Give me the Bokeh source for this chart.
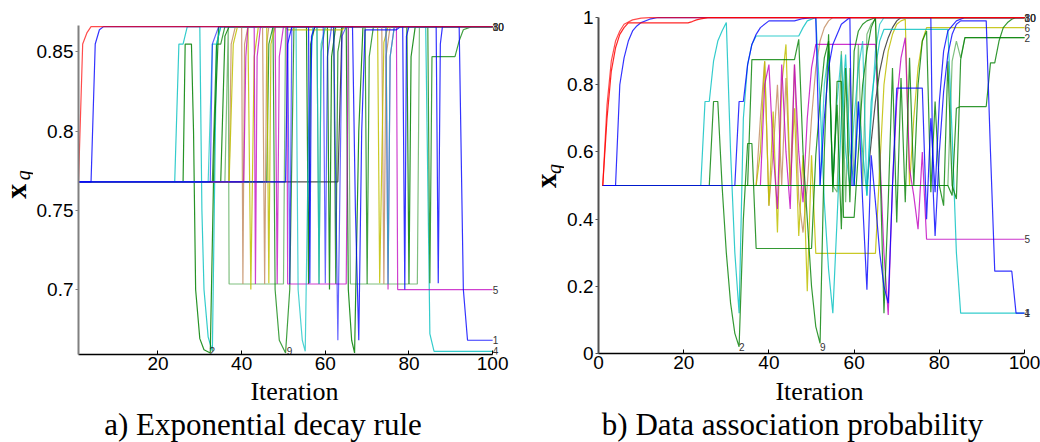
import math
from bokeh.plotting import figure
from bokeh.layouts import row, column
from bokeh.models import Range1d, FixedTicker, CustomJSTickFormatter, ColumnDataSource
from bokeh.core.properties import value
from bokeh.embed import file_html
from bokeh.resources import INLINE

RED = "#ff0000"; BLUE = "#0000ff"; GREEN = "#008000"; CYAN = "#00bfbf"
MAG = "#bf00bf"; YEL = "#bfbf00"; GRAY = "#404040"; TAN = "#c8966e"

# ---------------- panel a : Exponential decay rule ----------------
A_RED_X = [1, 2, 3, 4, 100]
A_RED_Y = [0.768, 0.855, 0.862, 0.866, 0.866]
A_BLUE1_X = [1, 4, 5, 6, 7, 92, 93, 94, 100]
A_BLUE1_Y = [0.768, 0.768, 0.855, 0.864, 0.866, 0.866, 0.70, 0.668, 0.668]
A_GRAY_X = [1, 63, 64, 100]
A_GRAY_Y = [0.768, 0.768, 0.866, 0.866]
A_CYAN1_X = [1, 24, 25, 26, 27, 30, 30.5, 31, 32, 33, 34, 35, 84, 85, 86, 100]
A_CYAN1_Y = [0.768, 0.768, 0.855, 0.855, 0.866, 0.866, 0.75, 0.70, 0.67, 0.661, 0.855, 0.866, 0.866, 0.672, 0.661, 0.661]
A_GREEN1_X = [1, 26, 26.5, 28, 28.5, 29, 30, 31, 32.5, 33.5, 34.5, 55.5, 56, 56.5, 57.5, 100]
A_GREEN1_Y = [0.768, 0.768, 0.855, 0.855, 0.80, 0.70, 0.669, 0.662, 0.66, 0.80, 0.866, 0.866, 0.7035, 0.855, 0.866, 0.866]
A_GREEN9_X = [1, 33, 34, 35, 36, 47.5, 48, 49, 50.5, 51.5, 52.5, 62, 62.5, 63, 64, 100]
A_GREEN9_Y = [0.768, 0.768, 0.855, 0.855, 0.866, 0.866, 0.70, 0.668, 0.66, 0.70, 0.866, 0.866, 0.7035, 0.85, 0.866, 0.866]
A_LGREEN_X = [1, 36, 36.8, 37, 50, 50.5, 58, 58.5, 59, 60, 65.5, 66, 82, 82.5, 100]
A_LGREEN_Y = [0.768, 0.768, 0.866, 0.7035, 0.7035, 0.866, 0.866, 0.7035, 0.85, 0.866, 0.866, 0.7035, 0.7035, 0.866, 0.866]
A_GREEN2_X = [1, 35, 36, 37, 60.5, 61, 61.5, 62.5, 65, 65.5, 66.3, 67, 68, 69, 79.5, 80, 80.5, 81.5, 100]
A_GREEN2_Y = [0.768, 0.768, 0.86, 0.866, 0.866, 0.70, 0.847, 0.866, 0.866, 0.70, 0.668, 0.66, 0.80, 0.866, 0.866, 0.7035, 0.847, 0.866, 0.866]
A_GREEN3_X = [1, 46, 46.5, 47.5, 69.5, 70, 70.5, 71.5, 84.5, 85, 85.5, 91, 92, 93, 95, 100]
A_GREEN3_Y = [0.768, 0.768, 0.855, 0.866, 0.866, 0.7035, 0.847, 0.866, 0.866, 0.704, 0.847, 0.847, 0.857, 0.864, 0.866, 0.866]
A_YEL_X = [1, 37, 38, 39, 41.5, 42.2, 43, 44, 46, 46.5, 47, 48, 50.5, 51, 64, 65, 72.5, 73, 74, 75, 100]
A_YEL_Y = [0.768, 0.768, 0.855, 0.866, 0.866, 0.70, 0.847, 0.866, 0.866, 0.704, 0.855, 0.866, 0.866, 0.864, 0.864, 0.866, 0.866, 0.704, 0.856, 0.866, 0.866]
A_TAN_X = [1, 37, 37.5, 38.5, 40, 40.3, 40.7, 41.5, 45, 45.5, 46, 46.5, 73.5, 74, 74.5, 75.5, 100]
A_TAN_Y = [0.768, 0.768, 0.855, 0.866, 0.866, 0.7035, 0.855, 0.866, 0.866, 0.7035, 0.855, 0.866, 0.866, 0.7035, 0.847, 0.866, 0.866]
A_MAG_X = [1, 40.5, 41, 41.5, 43, 43.3, 43.7, 44.5, 48, 48.5, 49, 50, 50.8, 51, 65, 65.5, 74.5, 75, 75.5, 76.5, 77, 77.3, 100]
A_MAG_Y = [0.768, 0.768, 0.847, 0.866, 0.866, 0.7035, 0.847, 0.866, 0.866, 0.7035, 0.847, 0.866, 0.866, 0.7035, 0.7035, 0.866, 0.866, 0.70, 0.847, 0.866, 0.866, 0.70, 0.70]
A_BLUE2_X = [1, 32.5, 33, 34.5, 51, 51.5, 52, 59.5, 60, 60.5, 61.5, 62, 63, 64, 65, 100]
A_BLUE2_Y = [0.768, 0.768, 0.855, 0.866, 0.866, 0.7035, 0.866, 0.866, 0.704, 0.847, 0.866, 0.866, 0.668, 0.86, 0.866, 0.866]
A_BLUE3_X = [1, 50.5, 51, 52, 56, 56.3, 56.7, 57.5, 66.5, 67.2, 68, 68.7, 69.5, 77, 78, 78.5, 79, 79.4, 80, 86.5, 87, 87.5, 88, 100]
A_BLUE3_Y = [0.768, 0.768, 0.855, 0.866, 0.866, 0.704, 0.86, 0.866, 0.866, 0.75, 0.668, 0.80, 0.864, 0.864, 0.866, 0.866, 0.70, 0.86, 0.866, 0.866, 0.704, 0.855, 0.866, 0.866]
A_CYAN2_X = [1, 32, 33, 34, 35, 53, 53.5, 54.5, 55.2, 56, 57, 58, 58.5, 59, 60, 74.5, 75, 75.5, 76.5, 100]
A_CYAN2_Y = [0.768, 0.768, 0.855, 0.855, 0.866, 0.866, 0.70, 0.668, 0.661, 0.80, 0.866, 0.866, 0.7035, 0.855, 0.866, 0.866, 0.7035, 0.847, 0.866, 0.866]

A_LABEL_TEXT = ["80", "30", "10", "5", "1", "4", "2", "9"]
A_LABEL_X = [100, 100, 100, 100, 100, 100, 32.3, 50.8]
A_LABEL_Y = [0.866, 0.866, 0.866, 0.70, 0.668, 0.661, 0.6615, 0.6615]
A_XTICKS = [20, 40, 60, 80, 100]
A_YTICKS = [0.7, 0.75, 0.8, 0.85]

# ---------------- panel b : Data association probability ----------------
B_RED1_X = [1, 2, 3, 4, 5, 6, 8, 10, 12, 100]
B_RED1_Y = [0.5, 0.74, 0.87, 0.93, 0.96, 0.98, 0.993, 0.998, 1, 1]
B_RED2_X = [1, 2, 3, 4, 5, 6, 7, 21, 22, 23, 24, 25, 26, 100]
B_RED2_Y = [0.5, 0.7, 0.84, 0.91, 0.95, 0.97, 0.984, 0.984, 0.988, 0.993, 0.996, 0.998, 1, 1]
B_BLUE1_X = [1, 4, 5, 6, 7, 8, 9, 10, 12, 14, 78, 78.5, 79, 80, 81, 82, 83, 84, 85, 91, 92, 93, 97, 98, 100]
B_BLUE1_Y = [0.5, 0.5, 0.8, 0.88, 0.93, 0.96, 0.975, 0.985, 0.995, 1, 1, 0.5, 0.35, 0.6, 0.78, 0.89, 0.95, 0.98, 0.99, 0.99, 0.6, 0.245, 0.245, 0.12, 0.12]
B_BLUE2_X = [1, 32, 33, 34, 35, 36, 37, 38, 40, 46, 48, 50, 51, 52, 53, 54, 55, 57, 59, 59.5, 60, 61, 62, 63, 64, 65, 66, 67, 68, 69, 70, 76, 77, 78, 79, 80, 81, 82, 84, 86, 100]
B_BLUE2_Y = [0.5, 0.5, 0.75, 0.75, 0.86, 0.92, 0.95, 0.97, 0.99, 0.99, 0.997, 1, 1, 0.5, 0.7, 0.85, 0.92, 0.98, 1, 0.5, 0.5, 0.75, 0.45, 0.19, 0.59, 0.45, 0.3, 0.2, 0.15, 0.5, 0.79, 0.79, 0.4, 0.7, 0.48, 0.75, 0.9, 0.96, 0.99, 1, 1]
B_CYAN1_X = [1, 24, 25, 26, 27, 28, 29, 30, 31, 32, 33, 34, 35, 36, 37, 47, 48, 49, 51, 52, 53, 54, 55, 56, 57, 58, 59, 60, 61, 62, 63, 64, 65, 66, 67, 82, 83, 84, 85, 100]
B_CYAN1_Y = [0.5, 0.5, 0.75, 0.75, 0.87, 0.93, 0.96, 0.985, 0.6, 0.3, 0.12, 0.7, 0.86, 0.92, 0.945, 0.945, 0.97, 0.99, 1, 0.75, 0.45, 0.25, 0.12, 0.4, 0.7, 0.89, 0.6, 0.5, 0.75, 0.6, 0.47, 0.75, 0.85, 0.93, 0.965, 0.965, 0.65, 0.3, 0.12, 0.12]
B_GREEN1_X = [1, 26, 27, 28, 29, 30, 31, 32, 33, 34, 35, 36, 37, 50, 51, 52, 53, 54, 55, 56, 57, 58, 59, 60, 61, 62, 63, 64, 65, 66, 67, 68, 69, 70, 71, 72, 73, 74, 75, 76, 77, 78, 79, 80, 81, 82, 83, 84, 85, 86, 100]
B_GREEN1_Y = [0.5, 0.5, 0.75, 0.75, 0.5, 0.3, 0.15, 0.06, 0.02, 0.4, 0.625, 0.625, 0.3125, 0.3125, 0.59, 0.75, 0.88, 0.93, 0.5, 0.74, 0.37, 0.85, 0.45, 0.9, 0.96, 0.98, 0.99, 0.995, 1, 0.6, 0.12, 0.45, 0.85, 0.39, 0.82, 0.45, 0.88, 0.5, 0.8, 0.93, 0.96, 0.48, 0.75, 0.5, 0.44, 0.87, 0.5, 0.46, 0.875, 0.94, 0.94]
B_GREEN9_X = [1, 35, 36, 46, 47, 48, 49, 50, 51, 52, 53, 54, 55, 56, 57, 57.5, 60, 61, 62, 63, 64, 65, 100]
B_GREEN9_Y = [0.5, 0.5, 0.875, 0.875, 0.935, 0.6, 0.4, 0.2, 0.08, 0.03, 0.6, 0.95, 0.48, 0.81, 0.81, 0.405, 0.405, 0.6, 0.8, 0.9, 0.97, 1, 1]
B_GREEN3_X = [1, 82, 83, 84, 85, 91, 92, 93, 94, 95, 96, 97, 98, 100]
B_GREEN3_Y = [0.5, 0.5, 0.47, 0.73, 0.735, 0.735, 0.865, 0.865, 0.93, 0.97, 0.985, 0.995, 1, 1]
B_LGREEN_X = [1, 55, 56, 57, 58, 59, 60, 61, 62, 63, 64, 65, 66, 82, 83, 84, 85, 86, 100]
B_LGREEN_Y = [0.5, 0.5, 0.48, 0.9, 0.45, 0.85, 0.5, 0.92, 0.5, 0.95, 0.98, 0.995, 0.5, 0.5, 0.87, 0.93, 0.88, 0.94, 0.94]
B_MAG_X = [1, 38, 39, 40, 41, 42, 43, 44, 45, 46, 47, 48, 49, 50, 51, 65, 66, 67, 68, 69, 70, 71, 72, 73, 74, 75, 76, 77, 100]
B_MAG_Y = [0.5, 0.5, 0.8, 0.86, 0.6, 0.43, 0.86, 0.6, 0.43, 0.86, 0.6, 0.45, 0.7, 0.85, 0.92, 0.92, 0.6, 0.3, 0.115, 0.5, 0.75, 0.88, 0.94, 0.55, 0.47, 0.37, 0.6, 0.34, 0.34]
B_YEL_X = [1, 37, 38, 39, 40, 41, 42, 43, 44, 45, 46, 47, 48, 49, 50, 51, 65, 66, 67, 68, 69, 70, 71, 72, 73, 74, 75, 76, 77, 100]
B_YEL_Y = [0.5, 0.5, 0.6, 0.87, 0.44, 0.72, 0.36, 0.8, 0.92, 0.5, 0.73, 0.35, 0.59, 0.185, 0.59, 0.298, 0.298, 0.55, 0.8, 0.9, 0.95, 0.98, 0.99, 0.995, 0.5, 0.7, 0.85, 0.93, 0.97, 0.97]
B_TAN_X = [1, 37, 38, 39, 40, 41, 42, 43, 44, 45, 46, 47, 48, 49, 50, 51, 52, 53, 54, 55, 100]
B_TAN_Y = [0.5, 0.5, 0.7, 0.87, 0.44, 0.6, 0.8, 0.5, 0.82, 0.5, 0.86, 0.46, 0.36, 0.5, 0.7, 0.85, 0.93, 0.97, 0.99, 1, 1]
B_GRAY_X = [1, 63, 64, 65, 66, 67, 68, 69, 70, 71, 100]
B_GRAY_Y = [0.5, 0.5, 0.63, 0.75, 0.84, 0.9, 0.94, 0.97, 0.99, 1, 1]
B_CYAN2_X = [1, 52, 53, 54, 55, 56, 57, 58, 59, 60, 61, 62, 63, 64, 65, 66, 67, 100]
B_CYAN2_Y = [0.5, 0.5, 0.8, 0.9, 0.5, 0.75, 0.89, 0.6, 0.5, 0.7, 0.85, 0.93, 0.47, 0.7, 0.9, 0.98, 1, 1]

B_LABEL_TEXT = ["80", "30", "10", "6", "2", "5", "1", "4", "2", "9"]
B_LABEL_X = [100, 100, 100, 100, 100, 100, 100, 100, 33, 52]
B_LABEL_Y = [1.0, 1.0, 1.0, 0.97, 0.94, 0.34, 0.12, 0.12, 0.02, 0.02]
B_XTICKS = [0, 20, 40, 60, 80, 100]
B_YTICKS = [0, 0.2, 0.4, 0.6, 0.8, 1]

CAPTION_A = "a) Exponential decay rule"
CAPTION_B = "b) Data association probability"
X_TITLE = "Iteration"

A_SERIES = [
    (A_GRAY_X, A_GRAY_Y, GRAY, 0.9),
    (A_LGREEN_X, A_LGREEN_Y, GREEN, 0.5),
    (A_CYAN1_X, A_CYAN1_Y, CYAN, 0.8),
    (A_GREEN1_X, A_GREEN1_Y, GREEN, 0.85),
    (A_GREEN9_X, A_GREEN9_Y, GREEN, 0.75),
    (A_GREEN2_X, A_GREEN2_Y, GREEN, 0.85),
    (A_GREEN3_X, A_GREEN3_Y, GREEN, 0.75),
    (A_TAN_X, A_TAN_Y, TAN, 0.9),
    (A_YEL_X, A_YEL_Y, YEL, 0.85),
    (A_MAG_X, A_MAG_Y, MAG, 0.75),
    (A_CYAN2_X, A_CYAN2_Y, CYAN, 0.7),
    (A_BLUE2_X, A_BLUE2_Y, BLUE, 0.6),
    (A_BLUE3_X, A_BLUE3_Y, BLUE, 0.8),
    (A_BLUE1_X, A_BLUE1_Y, BLUE, 0.8),
    (A_RED_X, A_RED_Y, RED, 0.7),
]
B_SERIES = [
    (B_GRAY_X, B_GRAY_Y, GRAY, 0.9),
    (B_LGREEN_X, B_LGREEN_Y, GREEN, 0.5),
    (B_TAN_X, B_TAN_Y, TAN, 0.9),
    (B_YEL_X, B_YEL_Y, YEL, 0.85),
    (B_MAG_X, B_MAG_Y, MAG, 0.8),
    (B_CYAN2_X, B_CYAN2_Y, CYAN, 0.7),
    (B_CYAN1_X, B_CYAN1_Y, CYAN, 0.8),
    (B_GREEN9_X, B_GREEN9_Y, GREEN, 0.8),
    (B_GREEN3_X, B_GREEN3_Y, GREEN, 0.8),
    (B_GREEN1_X, B_GREEN1_Y, GREEN, 0.8),
    (B_BLUE2_X, B_BLUE2_Y, BLUE, 0.8),
    (B_BLUE1_X, B_BLUE1_Y, BLUE, 0.8),
    (B_RED2_X, B_RED2_Y, RED, 0.85),
    (B_RED1_X, B_RED1_Y, RED, 0.7),
]

TOP_H = 378          # height of the plot row
BOT_H = 442 - TOP_H  # height of the strip holding "Iteration" and the caption


def blank(w, h):
    f = figure(width=w, height=h, x_range=Range1d(0, w), y_range=Range1d(0, h),
               output_backend="svg", toolbar_location=None,
               x_axis_type=None, y_axis_type=None,
               min_border_left=0, min_border_right=0, min_border_top=0, min_border_bottom=0)
    f.outline_line_color = None
    f.grid.visible = False
    return f


def ylabel_fig(w, x_pos, q_pos, xsize):
    f = blank(w, TOP_H)
    f.text(x=[x_pos[0]], y=[x_pos[1]], text=["x"], angle=math.pi / 2,
           text_font=value("Liberation Serif"), text_font_style="bold",
           text_font_size=xsize, text_align="center", text_baseline="alphabetic",
           text_color="black")
    f.text(x=[q_pos[0]], y=[q_pos[1]], text=["q"], angle=math.pi / 2,
           text_font=value("Liberation Serif"), text_font_style="italic",
           text_font_size="20px", text_align="center", text_baseline="alphabetic",
           text_color="black")
    return f


def bottom_fig(iter_x, cap_x, caption):
    f = blank(520, BOT_H)
    f.text(x=[iter_x], y=[51], text=[X_TITLE], text_font=value("Liberation Serif"),
           text_font_size="26px", text_align="center", text_baseline="alphabetic",
           text_color="black")
    f.text(x=[cap_x], y=[18], text=[caption], text_font=value("Liberation Serif"),
           text_font_size="31px", text_align="center", text_baseline="alphabetic",
           text_color="black")
    return f


def plot_fig(w, series, xr, yr, xbounds, ybounds, xticks, yticks, borders, labels, left_axis_color):
    left, right, top, bottom = borders
    p = figure(width=w, height=TOP_H, x_range=xr, y_range=yr,
               output_backend="svg", toolbar_location=None,
               min_border_left=left, min_border_right=right,
               min_border_top=top, min_border_bottom=bottom)
    p.outline_line_color = None
    p.grid.visible = False
    for xs, ys, c, a in series:
        p.line(xs, ys, line_color=c, line_alpha=a, line_width=1.2)

    src = ColumnDataSource(dict(x=labels[1], y=labels[2], t=labels[0]))
    p.text(x="x", y="y", text="t", source=src, text_font=value("Liberation Sans"),
           text_font_size="10px", text_color="#333333", text_align="left",
           text_baseline="middle")

    fmt = CustomJSTickFormatter(code="return String(Math.round(tick*100)/100);")
    p.xaxis.ticker = FixedTicker(ticks=xticks)
    p.yaxis.ticker = FixedTicker(ticks=yticks)
    p.xaxis.formatter = fmt
    p.yaxis.formatter = fmt
    p.xaxis.bounds = xbounds
    p.yaxis.bounds = ybounds
    for ax in (p.xaxis[0], p.yaxis[0]):
        ax.major_label_text_font = "Liberation Sans"
        ax.major_label_text_font_size = "19px"
        ax.major_label_text_color = "black"
        ax.minor_tick_line_color = None
        ax.major_label_standoff = 2
    p.xaxis.major_tick_in = 4
    p.xaxis.major_tick_out = 0
    p.yaxis.major_tick_in = 0
    p.yaxis.major_tick_out = 3
    p.xaxis.axis_line_color = "black"
    p.xaxis.axis_line_width = 1.5
    p.xaxis.major_tick_line_color = "black"
    p.yaxis.axis_line_color = left_axis_color
    p.yaxis.axis_line_width = 2
    p.yaxis.major_tick_line_color = left_axis_color
    return p


# panel a : frame 417 px for iterations 1..100, extended right to hold end labels
pa = plot_fig(487, A_SERIES, Range1d(1, 104.75), Range1d(0.659, 0.8686),
              (1, 100), (0.659, 0.8667), A_XTICKS, A_YTICKS,
              (42, 8, 22, 24), (A_LABEL_TEXT, A_LABEL_X, A_LABEL_Y), "#808080")
ya = ylabel_fig(33, (15, 186), (22, 204), "30px")
ba = bottom_fig(294, 262.5, CAPTION_A)

# panel b : frame 426 px for iterations 0..100
pb = plot_fig(476, B_SERIES, Range1d(0, 102.8), Range1d(0, 1.012),
              (0, 100), (0, 1), B_XTICKS, B_YTICKS,
              (32, 4, 13, 25), (B_LABEL_TEXT, B_LABEL_X, B_LABEL_Y), "#505050")
yb = ylabel_fig(44, (25.5, 192), (33, 205), "29px")
bb = bottom_fig(299, 272, CAPTION_B)

layout = row(column(row(ya, pa), ba), column(row(yb, pb), bb))
open("out.html", "w").write(file_html(layout, INLINE))
